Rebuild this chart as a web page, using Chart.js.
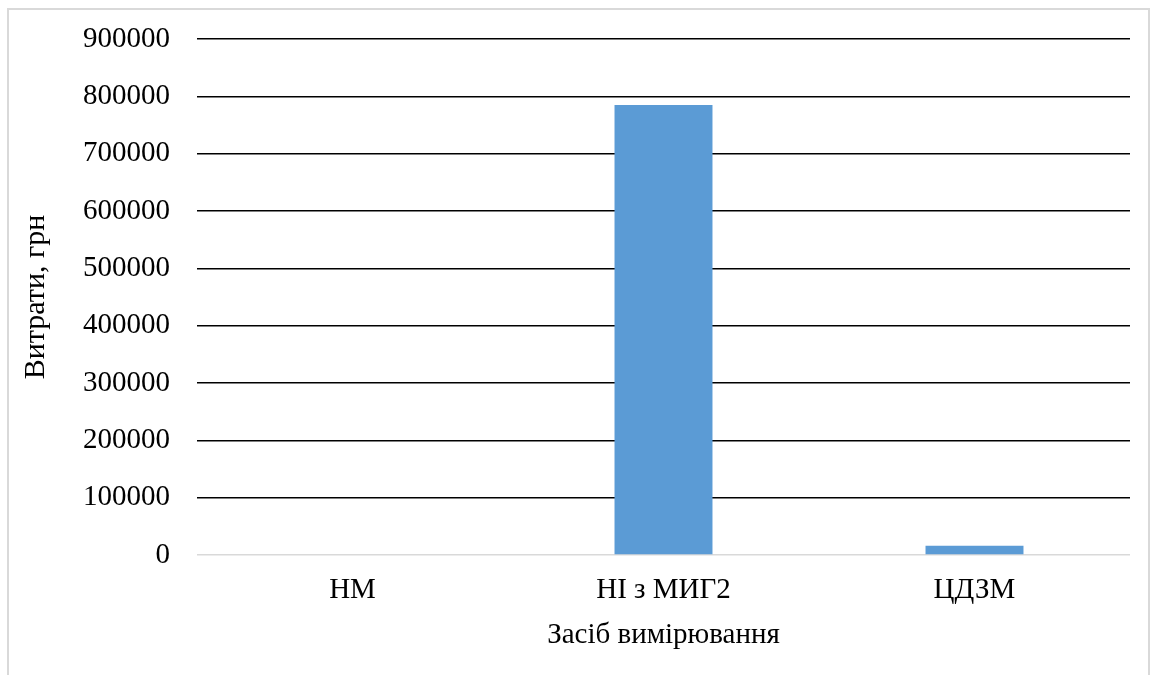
<!DOCTYPE html>
<html>
<head>
<meta charset="utf-8">
<script src="https://cdn.jsdelivr.net/npm/chart.js@4/dist/chart.umd.min.js"></script>
<style>
  html, body { margin: 0; padding: 0; background: #ffffff; }
  #wrap { position: relative; width: 1160px; height: 675px; overflow: hidden; }
  #frame {
    position: absolute; left: 7px; top: 8px; width: 1143px; height: 700px;
    border: 2px solid #d9d9d9; box-sizing: border-box;
  }
  canvas { position: absolute; left: 0; top: 0; }
</style>
</head>
<body>
<div id="wrap">
  <div id="frame"></div>
  <canvas id="chart" width="1160" height="675"></canvas>
</div>
<script>
// Витрати на засоби вимірювання, грн
const categories = ['НМ', 'НІ з МИГ2', 'ЦДЗМ'];
const costs = [0, 785000, 16000];
const yTicks = [0, 100000, 200000, 300000, 400000, 500000, 600000, 700000, 800000, 900000];

const serif = "'Liberation Serif', 'Times New Roman', serif";

new Chart(document.getElementById('chart'), {
  type: 'bar',
  data: {
    labels: categories,
    datasets: [{
      data: costs,
      backgroundColor: '#5b9bd5',
      borderWidth: 0,
      categoryPercentage: 1,
      barPercentage: 0.315
    }]
  },
  options: {
    responsive: false,
    animation: false,
    layout: { padding: { left: 0, top: 39, right: 30, bottom: 0 } },
    plugins: { legend: { display: false }, tooltip: { enabled: false } },
    scales: {
      x: {
        grid: { display: false },
        border: { display: false },
        ticks: { color: '#000', font: { family: serif, size: 29 }, padding: 10, maxRotation: 0 },
        title: {
          display: true, text: 'Засіб вимірювання', color: '#000',
          font: { family: serif, size: 29 }, padding: { top: 0, bottom: 22 }
        },
        afterFit: s => { s.height = 120; s.paddingLeft = 0; s.paddingRight = 0; }
      },
      y: {
        min: yTicks[0],
        max: yTicks[yTicks.length - 1],
        afterBuildTicks: s => { s.ticks = yTicks.map(v => ({ value: v })); },
        grid: {
          drawTicks: false,
          lineWidth: 1.5,
          color: c => (c.tick && c.tick.value === 0) ? '#d9d9d9' : '#000000'
        },
        border: { display: false },
        ticks: {
          color: '#000', font: { family: serif, size: 29 }, padding: 27,
          callback: v => String(v)
        },
        title: {
          display: true, text: 'Витрати, грн', color: '#000',
          font: { family: serif, size: 30 }, padding: { top: 18, bottom: 0 }
        },
        afterFit: s => { s.width = 197; s.paddingTop = 0; s.paddingBottom = 0; }
      }
    }
  }
});
</script>
</body>
</html>
